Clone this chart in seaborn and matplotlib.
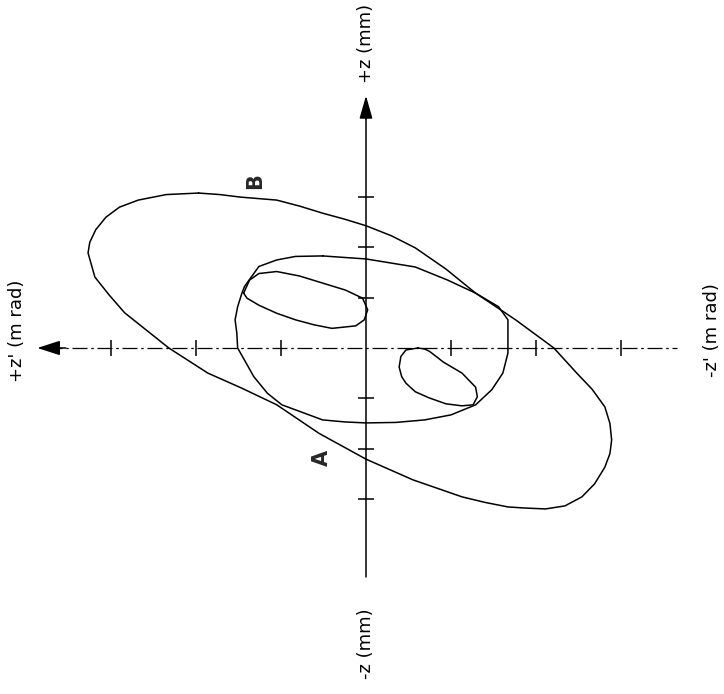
import numpy as np
import pandas as pd
import matplotlib
matplotlib.use('Agg')
import matplotlib.pyplot as plt
import seaborn as sns

sns.set_style('white')
plt.rcParams['font.family'] = ['DejaVu Sans']

# ----------------------------
# Data (screen units: 1 tick = 1 unit)
# ----------------------------
# outer tilted ellipse
big_u = [-1.97, -1.72, -1.48, -1.05, -0.78, -0.51, -0.25, 0.00, 0.30, 0.58, 0.94, 1.29,
         1.76, 2.21, 2.48, 2.66, 2.81, 2.87, 2.89, 2.87, 2.81, 2.69, 2.54, 2.34,
         2.11, 1.85, 1.67, 1.40, 1.13, 0.55, 0.00, -0.55, -1.05, -1.46, -1.86, -2.32,
         -2.84, -3.02, -3.19, -3.27, -3.25, -3.18, -3.06, -2.90, -2.68, -2.35, -1.97]
big_v = [3.08, 3.05, 3.00, 2.94, 2.82, 2.68, 2.56, 2.43, 2.23, 1.99, 1.57, 1.09,
         0.56, 0.00, -0.50, -0.82, -1.17, -1.50, -1.83, -2.10, -2.37, -2.70, -2.96, -3.14,
         -3.20, -3.18, -3.16, -3.07, -2.96, -2.62, -2.21, -1.70, -1.13, -0.80, -0.50, 0.00,
         0.70, 1.05, 1.41, 1.89, 2.10, 2.35, 2.60, 2.80, 2.94, 3.05, 3.08]

# middle curve
mid_u = [-0.51, 0.00, 0.58, 0.96, 1.29, 1.56, 1.67, 1.67, 1.67, 1.61, 1.48, 1.29,
         1.00, 0.69, 0.35, 0.00, -0.25, -0.51, -0.99, -1.16, -1.32, -1.51, -1.52, -1.54,
         -1.51, -1.46, -1.43, -1.35, -1.26, -1.05, -0.83, -0.51]
mid_v = [1.83, 1.77, 1.61, 1.35, 1.09, 0.82, 0.56, 0.30, -0.10, -0.50, -0.83, -1.13,
         -1.33, -1.43, -1.48, -1.49, -1.47, -1.43, -1.13, -0.90, -0.57, 0.00, 0.30, 0.56,
         0.82, 1.09, 1.22, 1.41, 1.62, 1.75, 1.82, 1.83]

# small upper loop
up_u = [-1.44, -1.37, -1.26, -1.05, -0.78, -0.51, -0.24, -0.04, 0.02, -0.02, -0.12,
        -0.40, -0.61, -0.83, -1.05, -1.26, -1.40, -1.44]
up_v = [1.09, 1.35, 1.48, 1.52, 1.43, 1.29, 1.15, 0.99, 0.76, 0.56, 0.44,
        0.39, 0.46, 0.56, 0.69, 0.85, 0.99, 1.09]

# small lower loop
lo_u = [0.61, 0.47, 0.41, 0.39, 0.42, 0.47, 0.58, 0.74, 0.94, 1.13, 1.26, 1.31,
        1.29, 1.13, 0.91, 0.75, 0.69, 0.61]
lo_v = [0.00, -0.04, -0.17, -0.38, -0.57, -0.70, -0.87, -0.99, -1.11, -1.15, -1.13, -0.97,
        -0.78, -0.50, -0.28, -0.07, -0.02, 0.00]

tick_u = [-3, -2, -1, 1, 2, 3]
tick_v = [-3, -2, -1, 1, 2, 3]

# ----------------------------
# Figure
# ----------------------------
fig = plt.figure(figsize=(7.24, 6.94), dpi=100)
ax = fig.add_axes([0, 0, 1, 1])
ax.set_xlim(-4.306, 4.212)
ax.set_ylim(-6.879, 6.918)
ax.axis('off')

curves = [(big_u, big_v), (mid_u, mid_v), (up_u, up_v), (lo_u, lo_v)]
for cu, cv in curves:
    d = pd.DataFrame({'u': cu, 'v': cv})
    sns.lineplot(data=d, x='u', y='v', sort=False, estimator=None,
                 color='black', lw=1.1, ax=ax)

# axes lines
ax.plot([-3.75, 3.66], [0, 0], color='black', lw=0.9, ls=(0, (12, 3, 2, 3)))
ax.plot([0, 0], [-4.55, 4.8], color='black', lw=1.1)

# arrow heads
ax.annotate('', xy=(-3.9, 0), xytext=(-3.5, 0),
            arrowprops=dict(arrowstyle='-|>,head_length=1.4,head_width=0.45',
                            color='black', lw=1.1))
ax.annotate('', xy=(0, 5.07), xytext=(0, 4.5),
            arrowprops=dict(arrowstyle='-|>,head_length=1.4,head_width=0.4',
                            color='black', lw=1.1))

# ticks
ax.plot(tick_u, [0] * len(tick_u), ls='none', marker='|', ms=12, mew=1.1, color='black')
ax.plot([0] * len(tick_v), tick_v, ls='none', marker='_', ms=12, mew=1.1, color='black')

# labels
kw = dict(rotation=90, ha='center', va='center', fontsize=13, color='black')
ax.text(0, 6.06, "+z (mm)", **kw)
ax.text(0, -5.88, "-z (mm)", **kw)
ax.text(-4.106, 0.34, "+z' (m rad)", **kw)
ax.text(4.07, 0.36, "-z' (m rad)", **kw)
ax.text(-1.31, 3.32, "B", rotation=90, ha='center', va='center', fontsize=15, fontweight='bold')
ax.text(-0.52, -2.19, "A", rotation=90, ha='center', va='center', fontsize=15, fontweight='bold')

fig.savefig('out.png', dpi=100, facecolor='white')
